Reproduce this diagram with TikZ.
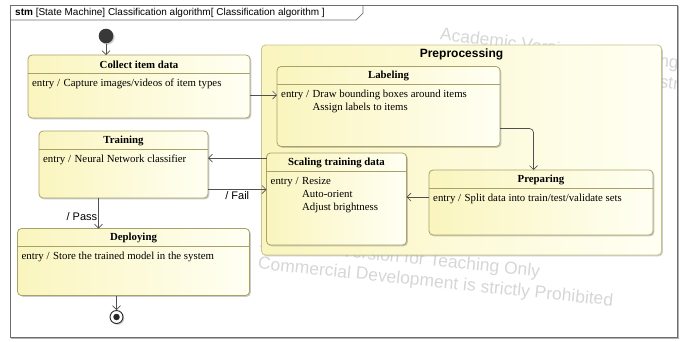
\documentclass[tikz,border=0pt]{standalone}
\usepackage{fontspec}
\setmainfont{Liberation Serif}
\setsansfont{Liberation Sans}
\usetikzlibrary{arrows.meta,shadows,calc}

\definecolor{stfill}{RGB}{250,245,190}
\definecolor{stfillend}{RGB}{255,255,243}
\definecolor{stline}{RGB}{168,162,104}
\definecolor{compline}{RGB}{200,196,140}
\definecolor{frameline}{RGB}{110,110,110}
\definecolor{wmark}{RGB}{214,214,214}
\definecolor{arrowgray}{RGB}{80,80,80}

\tikzset{
  boxshadow/.style={drop shadow={shadow xshift=1.3pt, shadow yshift=-1.3pt, fill=black!45, opacity=0.45}},
  statebox/.style={rectangle, draw=stline, line width=0.8pt, rounded corners=4pt,
    left color=stfill, right color=stfillend, inner sep=0pt, outer sep=0pt,
    anchor=north west, boxshadow},
  compbox/.style={statebox, draw=compline},
  hdrline/.style={draw=stline, line width=0.7pt},
  stitle/.style={inner sep=0pt, font=\bfseries\fontsize{10.8}{12}\selectfont},
  sentry/.style={inner sep=0pt, anchor=base west, font=\fontsize{10.8}{13}\selectfont},
  conn/.style={draw=arrowgray, line width=0.7pt, -{Straight Barb[length=4pt,width=8pt]}},
  translabel/.style={inner sep=1pt, font=\sffamily\fontsize{11}{13}\selectfont},
  watermark/.style={inner sep=0pt, anchor=north west, align=left, rotate=-6,
    text=wmark, font=\sffamily\fontsize{17.5}{21}\selectfont},
}

% header rule, bold name and entry behaviour of a simple state
\newcommand\stateparts[3]{%
  \draw[hdrline] ($(#1.north west)+(0,18)$) -- ($(#1.north east)+(0,18)$);
  \node[stitle] (#1-name) at ($(#1.north)+(0,9.5)$) {#2};
  \node[sentry] (#1-entry) at ($(#1.north west)+(4,31)$)
    {\begin{tabular}[t]{@{}l@{\hspace{3.6pt}}l@{}}#3\end{tabular}};
}

\begin{document}
\begin{tikzpicture}[x=1pt,y=-1pt]
\useasboundingbox (0,0) rectangle (684,341);

% diagram frame with its name tab
\draw[black!30, line width=1pt] (678,6) -- (678,338) -- (11,338);
\draw[frameline, line width=0.7pt] (10,5) rectangle (677,337);
\draw[frameline, line width=0.7pt] (10,20) -- (356,20) -- (363,13) -- (363,5);
\node[inner sep=0pt, anchor=west, font=\sffamily\fontsize{10}{12}\selectfont] (frametitle) at (15,13)
  {\textbf{stm} [State Machine] Classification algorithm[ Classification algorithm ]};

% licence watermark, behind everything else
\begin{scope}
  \clip (10.5,20.5) rectangle (676.5,336.5);
  \node[watermark, rotate=-1] (wm-top) at (441,27)
    {Academic Version for Teaching Only\\Commercial Development is strictly Prohibited};
  \node[watermark] (wm-bottom) at (261,235)
    {Academic Version for Teaching Only\\Commercial Development is strictly Prohibited};
\end{scope}

% composite state
\node[compbox, minimum width=400pt, minimum height=210pt] (prep) at (261.5,45) {};
\node[inner sep=0pt, font=\sffamily\bfseries\fontsize{12}{14}\selectfont] (prep-name)
  at ($(prep.north)+(0,9.5)$) {Preprocessing};

% simple states
\node[statebox, minimum width=222pt, minimum height=63pt] (collect) at (28,55) {};
\stateparts{collect}{Collect item data}{entry / & Capture images/videos of item types}

\node[statebox, minimum width=223pt, minimum height=80pt] (labeling) at (277,66.5) {};
\stateparts{labeling}{Labeling}{entry / & Draw bounding boxes around items\\ & Assign labels to items}

\node[statebox, minimum width=224pt, minimum height=65pt] (preparing) at (429,170) {};
\stateparts{preparing}{Preparing}{entry / & Split data into train/test/validate sets}

\node[statebox, minimum width=140pt, minimum height=92pt] (scaling) at (266.5,153) {};
\stateparts{scaling}{Scaling training data}{entry / & Resize\\ & Auto-orient\\ & Adjust brightness}

\node[statebox, minimum width=169pt, minimum height=67pt] (training) at (39,131) {};
\stateparts{training}{Training}{entry / & Neural Network classifier}

\node[statebox, minimum width=232pt, minimum height=67pt] (deploying) at (17.5,228.5) {};
\stateparts{deploying}{Deploying}{entry / & Store the trained model in the system}

% pseudo states
\node[circle, fill=black!78, minimum size=14.6pt, inner sep=0pt, boxshadow] (init) at (106,36) {};
\node[circle, draw=black!85, fill=white, line width=0.9pt, minimum size=13pt, inner sep=0pt, boxshadow] (final) at (116.5,317) {};
\node[circle, fill=black!85, minimum size=6.5pt, inner sep=0pt] (final-dot) at (final) {};

% transitions
\draw[conn] (init) -- (init |- collect.north);
\draw[conn] (collect.east |- 0,95) -- (labeling.west |- 0,95);
\draw[conn, rounded corners=4pt] (labeling.east |- 0,128.5) -| (preparing.north -| 533.5,0);
\draw[conn] (preparing.west |- 0,197) -- (scaling.east |- 0,197);
\draw[conn] (scaling.west |- 0,158) -- (training.east |- 0,158);
\draw[conn] (training.east |- 0,189.5) -- node[translabel, below, pos=0.5, yshift=-1pt] {/ Fail} (scaling.west |- 0,189.5);
\draw[conn] (training.south -| 98.5,0) -- node[translabel, left, pos=0.6] {/ Pass} (deploying.north -| 98.5,0);
\draw[conn] (deploying.south -| 116.5,0) -- (final);

\end{tikzpicture}
\end{document}
